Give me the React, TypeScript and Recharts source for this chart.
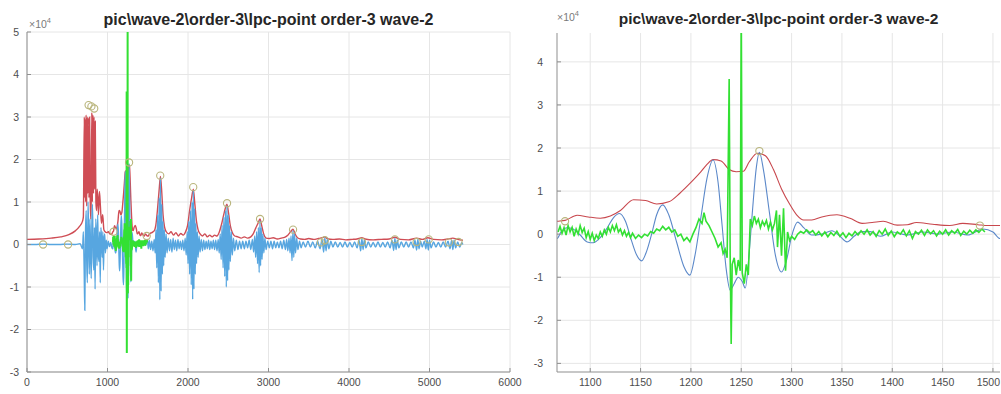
import React from 'react';
import {
  ComposedChart,
  Line,
  Scatter,
  XAxis,
  YAxis,
  CartesianGrid,
  Customized,
} from 'recharts';

type Pt = [number, number];

// All amplitudes are in units of 1e4 (shown by the "×10^4" axis multiplier).
const TITLE = 'pic\\wave-2\\order-3\\lpc-point order-3 wave-2';

const leftXTicks = [0, 1000, 2000, 3000, 4000, 5000, 6000];
const leftYTicks = [-3, -2, -1, 0, 1, 2, 3, 4, 5];
const rightXTicks = [1100, 1150, 1200, 1250, 1300, 1350, 1400, 1450, 1500];
const rightYTicks = [-3, -2, -1, 0, 1, 2, 3, 4];

// Speech waveform, samples 0..1067
const waveHead: Pt[] = [
  [0, 0], [100, 0], [200, 0.01], [300, 0], [400, 0], [500, 0.01], [600, 0], [660, 0.02],
  [690, -0.1], [700, 0.3], [710, -0.6], [718, -1.55], [726, 0.2], [735, 0.8], [742, -0.4],
  [750, -0.9], [758, 1.0], [766, 0.3], [774, -0.7], [782, 0.6], [790, -0.2], [798, -0.8],
  [806, 0.5], [814, 0.95], [822, -0.3], [830, -0.6], [838, 0.4], [846, -1.05], [854, 0.6],
  [862, 0.2], [870, -0.5], [878, 0.7], [886, -0.2], [894, -0.4], [902, 0.3], [910, -0.9],
  [918, 0.4], [926, 0.1], [934, -0.3], [942, 0.3], [950, -0.6], [958, 0.15], [966, 0.25],
  [974, -0.2], [985, 0.1], [995, -0.1], [1010, 0.08], [1025, -0.05], [1040, 0.05], [1055, -0.08],
];

// Speech waveform, samples 1067..1507 (the zoomed frame)
const waveFrame: Pt[] = [
  [1067, -0.1], [1071, 0.05], [1077, 0.15], [1083, 0.12], [1090, -0.02], [1097, -0.18],
  [1103, -0.2], [1110, -0.08], [1117, 0.15], [1123, 0.38], [1129, 0.48], [1135, 0.3],
  [1141, -0.15], [1146, -0.48], [1151, -0.62], [1156, -0.4], [1161, 0.0], [1166, 0.45],
  [1172, 0.68], [1178, 0.45], [1186, -0.2], [1193, -0.75], [1199, -0.95], [1204, -0.5],
  [1210, 0.4], [1216, 1.3], [1222, 1.72], [1227, 1.2], [1231, 0.2], [1235, -0.8],
  [1239, -1.3], [1243, -1.15], [1247, -1.0], [1251, -1.1], [1254, -1.25], [1258, -0.4],
  [1261, 0.5], [1265, 1.55], [1268, 1.9], [1272, 1.5], [1278, 0.5], [1284, -0.5],
  [1290, -0.88], [1295, -0.6], [1300, -0.05], [1306, 0.28], [1312, 0.15], [1320, -0.02],
  [1330, 0.0], [1340, 0.08], [1348, -0.05], [1355, -0.18], [1362, -0.05], [1370, 0.06],
  [1378, 0.06], [1388, -0.05], [1400, 0.05], [1415, -0.02], [1430, 0.05], [1445, 0.0],
  [1460, 0.05], [1475, -0.02], [1490, 0.12], [1500, 0.05], [1507, -0.1],
];

// Speech waveform, samples 1507..5415
const waveTail: Pt[] = [
  [1520, 0.1], [1535, -0.12], [1550, 0.08], [1565, -0.15], [1580, 0.12], [1592, -0.2],
  [1602, 0.35], [1612, -0.55], [1622, 0.7], [1632, -0.9], [1642, 1.1], [1650, -1.3],
  [1658, 1.57], [1666, -1.1], [1674, 0.95], [1682, -0.7], [1690, 0.55], [1698, -0.5],
  [1706, 0.35], [1716, -0.3], [1728, 0.25], [1740, -0.2], [1755, 0.15], [1770, -0.15],
  [1785, 0.12], [1800, -0.18], [1815, 0.15], [1830, -0.12], [1845, 0.1], [1860, -0.15],
  [1875, 0.12], [1890, -0.1], [1905, 0.08], [1920, -0.12], [1935, 0.1], [1950, -0.15],
  [1965, 0.15], [1978, -0.25], [1990, 0.3], [2000, -0.45], [2010, 0.55], [2020, -0.7],
  [2030, 0.8], [2040, -0.95], [2050, 1.0], [2058, -1.29], [2066, 1.27], [2074, -1.05],
  [2082, 0.85], [2090, -0.7], [2098, 0.5], [2106, -0.45], [2116, 0.3], [2126, -0.3],
  [2138, 0.2], [2150, -0.18], [2165, 0.12], [2180, -0.15], [2195, 0.1], [2210, -0.12],
  [2225, 0.08], [2240, -0.1], [2255, 0.1], [2270, -0.12], [2285, 0.08], [2300, -0.1],
  [2315, 0.1], [2330, -0.12], [2345, 0.1], [2360, -0.15], [2375, 0.12], [2388, -0.2],
  [2400, 0.25], [2412, -0.35], [2424, 0.45], [2436, -0.55], [2446, 0.65], [2456, -0.75],
  [2466, 0.8], [2476, -1.0], [2484, 0.92], [2492, -0.85], [2500, 0.7], [2508, -0.6],
  [2516, 0.45], [2526, -0.4], [2538, 0.3], [2550, -0.25], [2565, 0.15], [2580, -0.15],
  [2600, 0.1], [2620, -0.12], [2640, 0.08], [2660, -0.1], [2680, 0.08], [2700, -0.1],
  [2720, 0.08], [2740, -0.08], [2760, 0.1], [2780, -0.12], [2800, 0.12], [2815, -0.18],
  [2828, 0.2], [2840, -0.3], [2852, 0.3], [2864, -0.45], [2874, 0.4], [2884, -0.66],
  [2894, 0.56], [2902, -0.5], [2910, 0.4], [2920, -0.35], [2930, 0.25], [2942, -0.2],
  [2955, 0.15], [2970, -0.12], [2990, 0.08], [3010, -0.08], [3030, 0.08], [3050, -0.1],
  [3070, 0.08], [3090, -0.08], [3110, 0.06], [3130, -0.08], [3150, 0.08], [3170, -0.1],
  [3190, 0.1], [3210, -0.12], [3225, 0.12], [3240, -0.15], [3255, 0.15], [3268, -0.2],
  [3280, 0.2], [3292, -0.38], [3304, 0.33], [3314, -0.3], [3324, 0.25], [3336, -0.2],
  [3350, 0.15], [3365, -0.12], [3385, 0.08], [3405, -0.08], [3430, 0.06], [3460, -0.06],
  [3490, 0.08], [3520, -0.06], [3550, 0.06], [3580, -0.08], [3610, 0.08], [3640, -0.1],
  [3665, 0.12], [3685, -0.18], [3700, 0.16], [3715, -0.15], [3730, 0.12], [3750, -0.1],
  [3775, 0.08], [3800, -0.06], [3830, 0.06], [3860, -0.06], [3890, 0.05], [3920, -0.06],
  [3950, 0.06], [3980, -0.06], [4010, 0.05], [4040, -0.06], [4070, 0.06], [4100, -0.08],
  [4125, 0.1], [4145, -0.15], [4160, 0.14], [4175, -0.12], [4190, 0.1], [4210, -0.08],
  [4240, 0.06], [4270, -0.06], [4300, 0.05], [4330, -0.06], [4360, 0.06], [4390, -0.06],
  [4420, 0.05], [4450, -0.06], [4480, 0.06], [4510, -0.08], [4535, 0.1], [4555, -0.14],
  [4570, 0.15], [4585, -0.12], [4600, 0.1], [4620, -0.08], [4650, 0.06], [4680, -0.06],
  [4710, 0.06], [4740, -0.06], [4770, 0.06], [4800, -0.08], [4820, 0.1], [4840, -0.13],
  [4855, 0.12], [4870, -0.1], [4890, 0.08], [4910, -0.06], [4935, 0.08], [4955, -0.1],
  [4970, 0.12], [4985, -0.13], [5000, 0.1], [5020, -0.08], [5050, 0.06], [5080, -0.06],
  [5110, 0.05], [5140, -0.06], [5170, 0.06], [5200, -0.06], [5230, 0.08], [5255, -0.1],
  [5275, 0.1], [5290, -0.12], [5305, 0.1], [5325, -0.08], [5350, 0.06], [5375, -0.06],
  [5400, 0.04], [5415, 0],
];

// LPC envelope
const envHead: Pt[] = [
  [0, 0.12], [150, 0.13], [300, 0.15], [420, 0.18], [520, 0.23], [600, 0.32], [650, 0.42],
  [690, 0.55], [700, 0.65], [712, 3.0], [718, 1.1], [722, 2.95], [728, 1.0], [734, 3.05],
  [742, 0.9], [748, 3.0], [756, 1.2], [762, 2.98], [770, 1.1], [778, 3.0], [786, 1.0],
  [792, 0.6], [798, 1.1], [805, 3.1], [812, 1.0], [818, 3.05], [826, 1.2], [832, 3.0],
  [840, 1.3], [848, 2.9], [856, 1.0], [864, 0.8], [872, 1.3], [880, 1.1], [888, 0.7],
  [900, 1.25], [912, 0.9], [925, 0.5], [940, 0.7], [955, 0.35], [970, 0.3], [990, 0.28],
  [1010, 0.3], [1030, 0.25], [1050, 0.24],
];

const envFrame: Pt[] = [
  [1067, 0.3], [1075, 0.32], [1087, 0.44], [1098, 0.4], [1110, 0.37], [1120, 0.42],
  [1130, 0.55], [1143, 0.8], [1155, 0.78], [1166, 0.7], [1178, 0.75], [1189, 0.95],
  [1200, 1.2], [1210, 1.45], [1216, 1.62], [1222, 1.73], [1230, 1.7], [1238, 1.5],
  [1245, 1.45], [1252, 1.46], [1258, 1.68], [1266, 1.88], [1274, 1.82], [1282, 1.5],
  [1290, 1.05], [1298, 0.7], [1305, 0.45], [1312, 0.33], [1320, 0.33], [1330, 0.4],
  [1345, 0.45], [1358, 0.37], [1370, 0.25], [1380, 0.27], [1391, 0.3], [1405, 0.21],
  [1415, 0.22], [1424, 0.27], [1440, 0.23], [1457, 0.2], [1470, 0.25], [1485, 0.22],
  [1495, 0.2], [1507, 0.2],
];

const envTail: Pt[] = [
  [1520, 0.25], [1550, 0.28], [1580, 0.32], [1600, 0.45], [1620, 0.8], [1640, 1.25],
  [1658, 1.6], [1675, 1.2], [1690, 0.7], [1710, 0.4], [1730, 0.3], [1760, 0.25], [1790, 0.3],
  [1820, 0.22], [1850, 0.28], [1880, 0.2], [1910, 0.26], [1940, 0.22], [1970, 0.3],
  [1995, 0.45], [2020, 0.8], [2045, 1.1], [2066, 1.3], [2085, 0.95], [2105, 0.55],
  [2125, 0.35], [2150, 0.25], [2180, 0.2], [2210, 0.25], [2240, 0.18], [2270, 0.22],
  [2300, 0.18], [2330, 0.22], [2360, 0.2], [2390, 0.3], [2420, 0.5], [2450, 0.75],
  [2484, 0.95], [2505, 0.72], [2525, 0.45], [2550, 0.28], [2580, 0.2], [2620, 0.18],
  [2660, 0.15], [2700, 0.18], [2740, 0.15], [2780, 0.18], [2810, 0.25], [2840, 0.38],
  [2870, 0.5], [2894, 0.6], [2915, 0.45], [2940, 0.25], [2970, 0.15], [3010, 0.14],
  [3060, 0.16], [3110, 0.13], [3160, 0.15], [3200, 0.17], [3240, 0.22], [3275, 0.3],
  [3304, 0.36], [3330, 0.25], [3360, 0.16], [3400, 0.13], [3450, 0.12], [3500, 0.14],
  [3560, 0.12], [3620, 0.14], [3670, 0.16], [3700, 0.18], [3730, 0.14], [3800, 0.12],
  [3880, 0.13], [3960, 0.11], [4040, 0.12], [4100, 0.13], [4160, 0.16], [4200, 0.13],
  [4300, 0.11], [4400, 0.12], [4500, 0.13], [4570, 0.17], [4640, 0.12], [4740, 0.11],
  [4840, 0.15], [4910, 0.12], [4980, 0.16], [5050, 0.12], [5150, 0.11], [5230, 0.13],
  [5290, 0.15], [5350, 0.12], [5415, 0.1],
];

// Prediction residual of the analysed frame
const residual: Pt[] = [
  [1068, 0.05], [1070, 0.18], [1072, 0.02], [1074, 0.15], [1076, -0.02], [1078, 0.2],
  [1080, 0.05], [1082, 0.16], [1084, -0.05], [1086, 0.12], [1088, 0.0], [1090, 0.2],
  [1092, 0.04], [1094, 0.14], [1096, -0.08], [1098, 0.06], [1100, -0.12], [1102, 0.02],
  [1104, -0.15], [1106, -0.02], [1108, -0.1], [1110, 0.05], [1112, -0.05], [1114, 0.1],
  [1116, 0.0], [1118, 0.16], [1120, 0.05], [1122, 0.2], [1124, 0.08], [1126, 0.22],
  [1128, 0.05], [1130, 0.12], [1132, -0.02], [1134, 0.08], [1136, -0.05], [1138, 0.04],
  [1140, -0.08], [1142, 0.02], [1145, -0.1], [1148, -0.02], [1151, -0.08], [1154, 0.0],
  [1157, -0.04], [1160, 0.06], [1163, 0.02], [1166, 0.12], [1169, 0.08], [1172, 0.18],
  [1175, 0.1], [1178, 0.16], [1181, 0.05], [1184, 0.1], [1187, -0.05], [1190, 0.0],
  [1193, -0.15], [1196, -0.08], [1199, -0.18], [1202, 0.0], [1205, 0.15], [1208, 0.35],
  [1211, 0.25], [1213, 0.5], [1215, 0.3], [1218, 0.2], [1221, 0.05], [1224, -0.1],
  [1227, -0.3], [1230, -0.2], [1232, -0.45], [1234, -0.35], [1236, -0.55], [1238, 3.6],
  [1239, -0.5], [1240, -2.55], [1241, -0.7], [1243, -0.55], [1245, -0.95], [1247, -0.6],
  [1249, -0.85], [1250, 5.5], [1251, -0.9], [1253, -1.15], [1255, -0.7], [1257, -0.95],
  [1259, 0.35], [1261, 0.2], [1263, 0.42], [1265, 0.25], [1267, 0.35], [1269, 0.15],
  [1271, 0.3], [1273, 0.2], [1275, 0.32], [1277, 0.12], [1279, 0.28], [1281, 0.1],
  [1283, 0.25], [1285, 0.55], [1286, -0.3], [1288, 0.45], [1290, -0.5], [1292, 0.6],
  [1294, -0.85], [1296, 0.05], [1298, -0.15], [1300, -0.05], [1303, -0.12], [1306, 0.0],
  [1309, 0.06], [1312, 0.02], [1315, 0.1], [1318, 0.03], [1321, 0.08], [1324, -0.02],
  [1327, 0.06], [1330, -0.04], [1333, 0.05], [1336, -0.06], [1339, 0.04], [1342, -0.03],
  [1345, 0.07], [1348, -0.05], [1351, 0.03], [1354, -0.08], [1357, 0.02], [1360, -0.04],
  [1363, 0.06], [1366, -0.02], [1369, 0.08], [1372, 0.0], [1375, 0.1], [1378, -0.02],
  [1381, 0.06], [1384, -0.05], [1387, 0.08], [1390, 0.0], [1393, 0.12], [1396, -0.03],
  [1399, 0.07], [1402, -0.06], [1405, 0.05], [1408, 0.0], [1411, 0.1], [1414, -0.04],
  [1417, 0.08], [1420, -0.1], [1423, 0.06], [1426, 0.0], [1429, 0.09], [1432, -0.03],
  [1435, 0.1], [1438, 0.01], [1441, 0.08], [1444, -0.04], [1447, 0.07], [1450, 0.0],
  [1453, 0.1], [1456, -0.02], [1459, 0.08], [1462, 0.02], [1465, 0.11], [1468, -0.03],
  [1471, 0.07], [1474, 0.0], [1477, 0.09], [1480, 0.02], [1483, 0.1], [1486, 0.04],
  [1489, 0.12], [1492, 0.05],
];

// Peak picks
const peaks: Pt[] = [
  [200, 0.0], [510, 0.0], [765, 3.28], [800, 3.25], [835, 3.2], [1075, 0.3], [1268, 1.93],
  [1487, 0.2], [1655, 1.62], [2065, 1.35], [2485, 0.97], [2895, 0.6], [3305, 0.35],
  [3650, 0.05], [3700, 0.1], [4160, 0.06], [4570, 0.12], [4840, 0.06], [4990, 0.12],
  [5240, 0.05], [5360, 0.06],
];

const toRows = (pts: Pt[]) => pts.map(([x, y]) => ({ x, y }));

const waveRows = toRows([...waveHead, ...waveFrame, ...waveTail]);
const envRows = toRows([...envHead, ...envFrame, ...envTail]);
const residualRows = toRows(residual);

const AXIS = '#8f8f8f';
const GRID = '#e6e6e6';
const TICK_TEXT = '#4d4d4d';
const FONT = '"Liberation Sans", Arial, sans-serif';
const TICK_FS = 10.5;

type PanelProps = {
  width: number;
  height: number;
  margin: { top: number; right: number; bottom: number; left: number };
  yAxisWidth: number;
  xDomain: [number, number];
  yDomain: [number, number];
  xTicks: number[];
  yTicks: number[];
  yTickMargin: number;
  titleY: number;
  titleSize: number;
  expX: number;
  expY: number;
  strokeW: number;
  greenW: number;
  blue: string;
  red: string;
};

const Marker = (p: any) => (
  <circle cx={p.cx} cy={p.cy} r={3.6} fill="none" stroke="#b9b57c" strokeWidth={1.1} />
);

// Bottom tick label that stays inside the drawing surface at the right edge.
const makeXTick = (limit: number) => (p: any) => {
  const label = String(p.payload.value);
  const half = (label.length * TICK_FS * 0.556) / 2;
  const fits = p.x + half <= limit;
  return (
    <text
      x={fits ? p.x : limit}
      y={p.y}
      dy="0.71em"
      textAnchor={fits ? 'middle' : 'end'}
      fontSize={TICK_FS}
      fill={TICK_TEXT}
      fontFamily={FONT}
    >
      {label}
    </text>
  );
};

function Panel(props: PanelProps) {
  const {
    width, height, margin, yAxisWidth, xDomain, yDomain, xTicks, yTicks, yTickMargin,
    titleY, titleSize, expX, expY, strokeW, greenW, blue, red,
  } = props;
  const plotLeft = margin.left + yAxisWidth;
  const plotRight = width - margin.right;
  const centerX = (plotLeft + plotRight) / 2;
  const peakRows = toRows(peaks.filter(([x]) => x >= xDomain[0] && x <= xDomain[1]));
  const tickStyle = { fontSize: TICK_FS, fill: TICK_TEXT, fontFamily: FONT };

  return (
    <ComposedChart width={width} height={height} margin={margin}>
      <CartesianGrid stroke={GRID} horizontalValues={yTicks} verticalValues={xTicks} />
      <XAxis
        xAxisId={0}
        dataKey="x"
        type="number"
        domain={xDomain}
        ticks={xTicks}
        allowDataOverflow
        height={22}
        stroke={AXIS}
        tickSize={-4}
        tickMargin={11}
        tick={makeXTick(width - 1)}
        interval={0}
      />
      <XAxis
        xAxisId="top"
        orientation="top"
        type="number"
        domain={xDomain}
        ticks={xTicks}
        allowDataOverflow
        height={0}
        stroke={AXIS}
        tickSize={-4}
        tickFormatter={() => ''}
        interval={0}
      />
      <YAxis
        yAxisId={0}
        dataKey="y"
        type="number"
        domain={yDomain}
        ticks={yTicks}
        allowDataOverflow
        width={yAxisWidth}
        stroke={AXIS}
        tickSize={-4}
        tickMargin={yTickMargin}
        tick={tickStyle}
        interval={0}
      />
      <YAxis
        yAxisId="right"
        orientation="right"
        type="number"
        domain={yDomain}
        ticks={yTicks}
        allowDataOverflow
        width={0}
        stroke={AXIS}
        tickSize={-4}
        tickFormatter={() => ''}
        interval={0}
      />
      <Line
        data={envRows}
        dataKey="y"
        type="monotone"
        stroke={red}
        strokeWidth={strokeW}
        dot={false}
        isAnimationActive={false}
      />
      <Line
        data={waveRows}
        dataKey="y"
        type="monotone"
        stroke={blue}
        strokeWidth={strokeW}
        dot={false}
        isAnimationActive={false}
      />
      <Line
        data={residualRows}
        dataKey="y"
        stroke="#33e033"
        strokeWidth={greenW}
        dot={false}
        isAnimationActive={false}
      />
      <Scatter data={peakRows} dataKey="y" shape={Marker} isAnimationActive={false} />
      <Customized
        component={() => (
          <g>
            <text
              x={centerX}
              y={titleY}
              textAnchor="middle"
              fontFamily={FONT}
              fontWeight="bold"
              fontSize={titleSize}
              fill="#262626"
            >
              {TITLE}
            </text>
            <text x={expX} y={expY} fontFamily={FONT} fontSize={10.5} fill="#7a7a7a">
              ×10
              <tspan dy={-5} fontSize={7.5}>4</tspan>
            </text>
          </g>
        )}
      />
    </ComposedChart>
  );
}

export default function App() {
  return (
    <div
      style={{
        position: 'absolute',
        left: 0,
        top: 0,
        width: 1001,
        height: 394,
        background: '#ffffff',
        fontFamily: FONT,
        overflow: 'hidden',
      }}
    >
      <div style={{ position: 'absolute', left: 0, top: 0 }}>
        <Panel
          width={532}
          height={394}
          margin={{ top: 32, right: 22, bottom: 0, left: 0 }}
          yAxisWidth={27}
          xDomain={[0, 6000]}
          yDomain={[-3, 5]}
          xTicks={leftXTicks}
          yTicks={leftYTicks}
          yTickMargin={12}
          titleY={25}
          titleSize={16}
          expX={29}
          expY={28}
          strokeW={1.4}
          greenW={2}
          blue="#57a6e0"
          red="#cf4d55"
        />
      </div>
      <div style={{ position: 'absolute', left: 510, top: 0 }}>
        <Panel
          width={491}
          height={394}
          margin={{ top: 33, right: 1, bottom: 0, left: 0 }}
          yAxisWidth={47}
          xDomain={[1067, 1507]}
          yDomain={[-3.2, 4.67]}
          xTicks={rightXTicks}
          yTicks={rightYTicks}
          yTickMargin={18}
          titleY={24}
          titleSize={15.5}
          expX={47}
          expY={21}
          strokeW={1.1}
          greenW={1.6}
          blue="#5b88c9"
          red="#c8474d"
        />
      </div>
    </div>
  );
}
